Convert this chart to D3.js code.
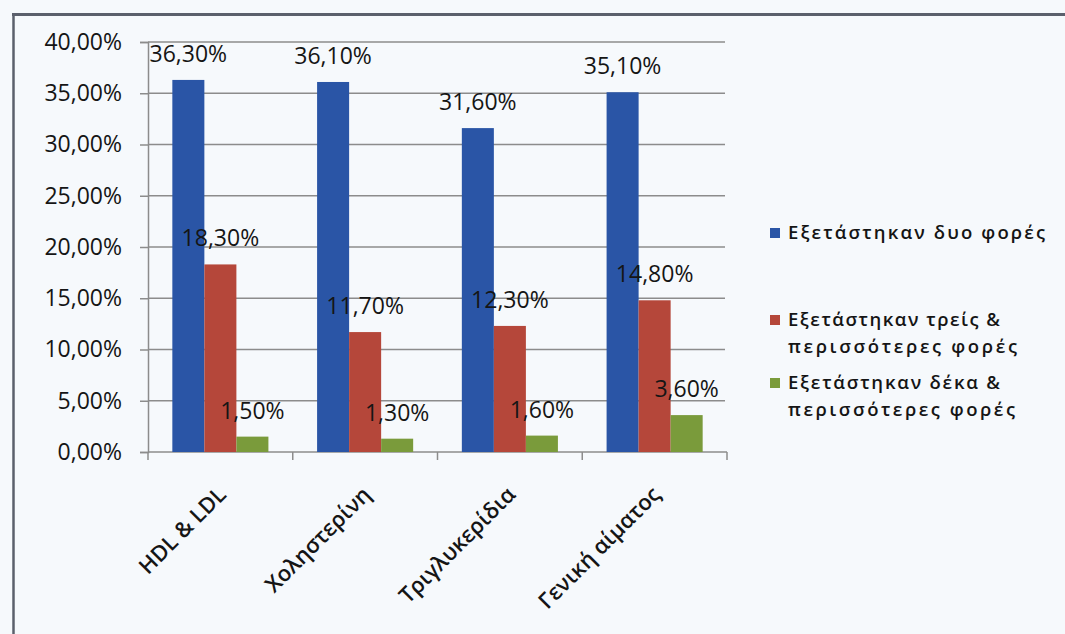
<!DOCTYPE html>
<html>
<head>
<meta charset="utf-8">
<script src="https://cdn.jsdelivr.net/npm/d3@7"></script>
<style>
  html, body { margin: 0; padding: 0; background: #f6f9fc; }
  svg { display: block; }
  text { font-family: "Open Sans", "Noto Sans", sans-serif; fill: #151515; }
</style>
</head>
<body>
<svg id="chart" width="1065" height="634"></svg>
<script>
// Test categories
const categories = ["HDL & LDL", "Χοληστερίνη", "Τριγλυκερίδια", "Γενική αίματος"];

// Series (shares in %)
const seriesNames = [
  ["Εξετάστηκαν δυο φορές"],
  ["Εξετάστηκαν τρείς &", "περισσότερες φορές"],
  ["Εξετάστηκαν δέκα &", "περισσότερες φορές"]
];
const twoTimes   = [36.3, 36.1, 31.6, 35.1];
const threePlus  = [18.3, 11.7, 12.3, 14.8];
const tenPlus    = [1.5, 1.3, 1.6, 3.6];
const seriesValues = [twoTimes, threePlus, tenPlus];
const seriesColors = ["#2a55a6", "#b5473a", "#7a9b3b"];

// Axis ticks
const yTicks = [0, 5, 10, 15, 20, 25, 30, 35, 40];

const fmt = v => v.toFixed(2).replace(".", ",") + "%";

const svg = d3.select("#chart");

// Frame lines
svg.append("line").attr("x1", 12).attr("x2", 1065).attr("y1", 14.5).attr("y2", 14.5)
  .attr("stroke", "#5b606c").attr("stroke-width", 3);
svg.append("line").attr("x1", 13.5).attr("x2", 13.5).attr("y1", 13).attr("y2", 634)
  .attr("stroke", "#5b606c").attr("stroke-width", 2.5);

const plot = { left: 148, right: 727, top: 42, bottom: 452 };

const x0 = d3.scaleBand().domain(categories).range([plot.left, plot.right]);
const x1 = d3.scaleBand().domain(d3.range(3)).range([0, x0.bandwidth()])
  .paddingInner(0).paddingOuter(0.76);
const y = d3.scaleLinear().domain([0, 40]).range([plot.bottom, plot.top]);

// Gridlines
svg.append("g").selectAll("line").data(yTicks.filter(t => t > 0)).join("line")
  .attr("x1", plot.left).attr("x2", plot.right - 2)
  .attr("y1", d => y(d)).attr("y2", d => y(d))
  .attr("stroke", "#8c8c8c").attr("stroke-width", 1.5);

// Y axis
const yAxis = svg.append("g").attr("transform", `translate(${plot.left},0)`)
  .call(d3.axisLeft(y).tickValues(yTicks).tickFormat(fmt).tickSize(8).tickPadding(18));
yAxis.select(".domain").attr("stroke", "#8c8c8c").attr("stroke-width", 1.5);
yAxis.selectAll(".tick line").attr("stroke", "#8c8c8c").attr("stroke-width", 1.5);
yAxis.selectAll(".tick text").attr("font-size", 23).attr("fill", "#151515")
  .attr("font-family", "Open Sans, sans-serif");

// X axis
const xAxisG = svg.append("g").attr("transform", `translate(0,${plot.bottom})`);
xAxisG.append("line").attr("x1", plot.left).attr("x2", plot.right)
  .attr("stroke", "#8c8c8c").attr("stroke-width", 1.5);
const boundaries = categories.map(c => x0(c)).concat([plot.right]);
xAxisG.selectAll("line.tk").data(boundaries).join("line").attr("class", "tk")
  .attr("x1", d => d).attr("x2", d => d).attr("y1", 0).attr("y2", 8)
  .attr("stroke", "#8c8c8c").attr("stroke-width", 1.5);
xAxisG.selectAll("text").data(categories).join("text")
  .attr("transform", d => `translate(${x0(d) + x0.bandwidth() / 2 + 7},44) rotate(-45)`)
  .attr("text-anchor", "end")
  .attr("font-size", 22)
  .attr("font-weight", 600)
  .text(d => d);

// Bars
const groups = svg.append("g").selectAll("g").data(categories).join("g")
  .attr("transform", d => `translate(${x0(d)},0)`);
groups.selectAll("rect").data((c, i) => seriesValues.map((vals, s) => ({ s, v: vals[i] }))).join("rect")
  .attr("x", d => x1(d.s)).attr("width", x1.bandwidth())
  .attr("y", d => y(d.v)).attr("height", d => y(0) - y(d.v))
  .attr("fill", d => seriesColors[d.s]);

// Value labels
groups.selectAll("text").data((c, i) => seriesValues.map((vals, s) => ({ s, v: vals[i] }))).join("text")
  .attr("x", d => x1(d.s) + x1.bandwidth() / 2)
  .attr("y", d => y(d.v) - 18)
  .attr("text-anchor", "middle")
  .attr("font-size", 23)
  .text(d => fmt(d.v));

// Legend
const legendY = [233, 320, 383];
const legendWidths = [[257], [212, 229], [212, 227]];
const legend = svg.append("g").selectAll("g").data(seriesNames).join("g")
  .attr("transform", (d, i) => `translate(770,${legendY[i]})`);
legend.append("rect").attr("x", 0).attr("y", -5).attr("width", 10).attr("height", 10)
  .attr("fill", (d, i) => seriesColors[i]);
legend.each(function (lines, i) {
  const g = d3.select(this);
  lines.forEach((t, k) => {
    g.append("text").attr("x", 18).attr("y", k * 27).attr("dy", "0.35em")
      .attr("font-size", 18.5).attr("font-weight", 600)
      .attr("textLength", legendWidths[i][k]).attr("lengthAdjust", "spacing")
      .attr("fill", "#222")
      .text(t);
  });
});
</script>
</body>
</html>
